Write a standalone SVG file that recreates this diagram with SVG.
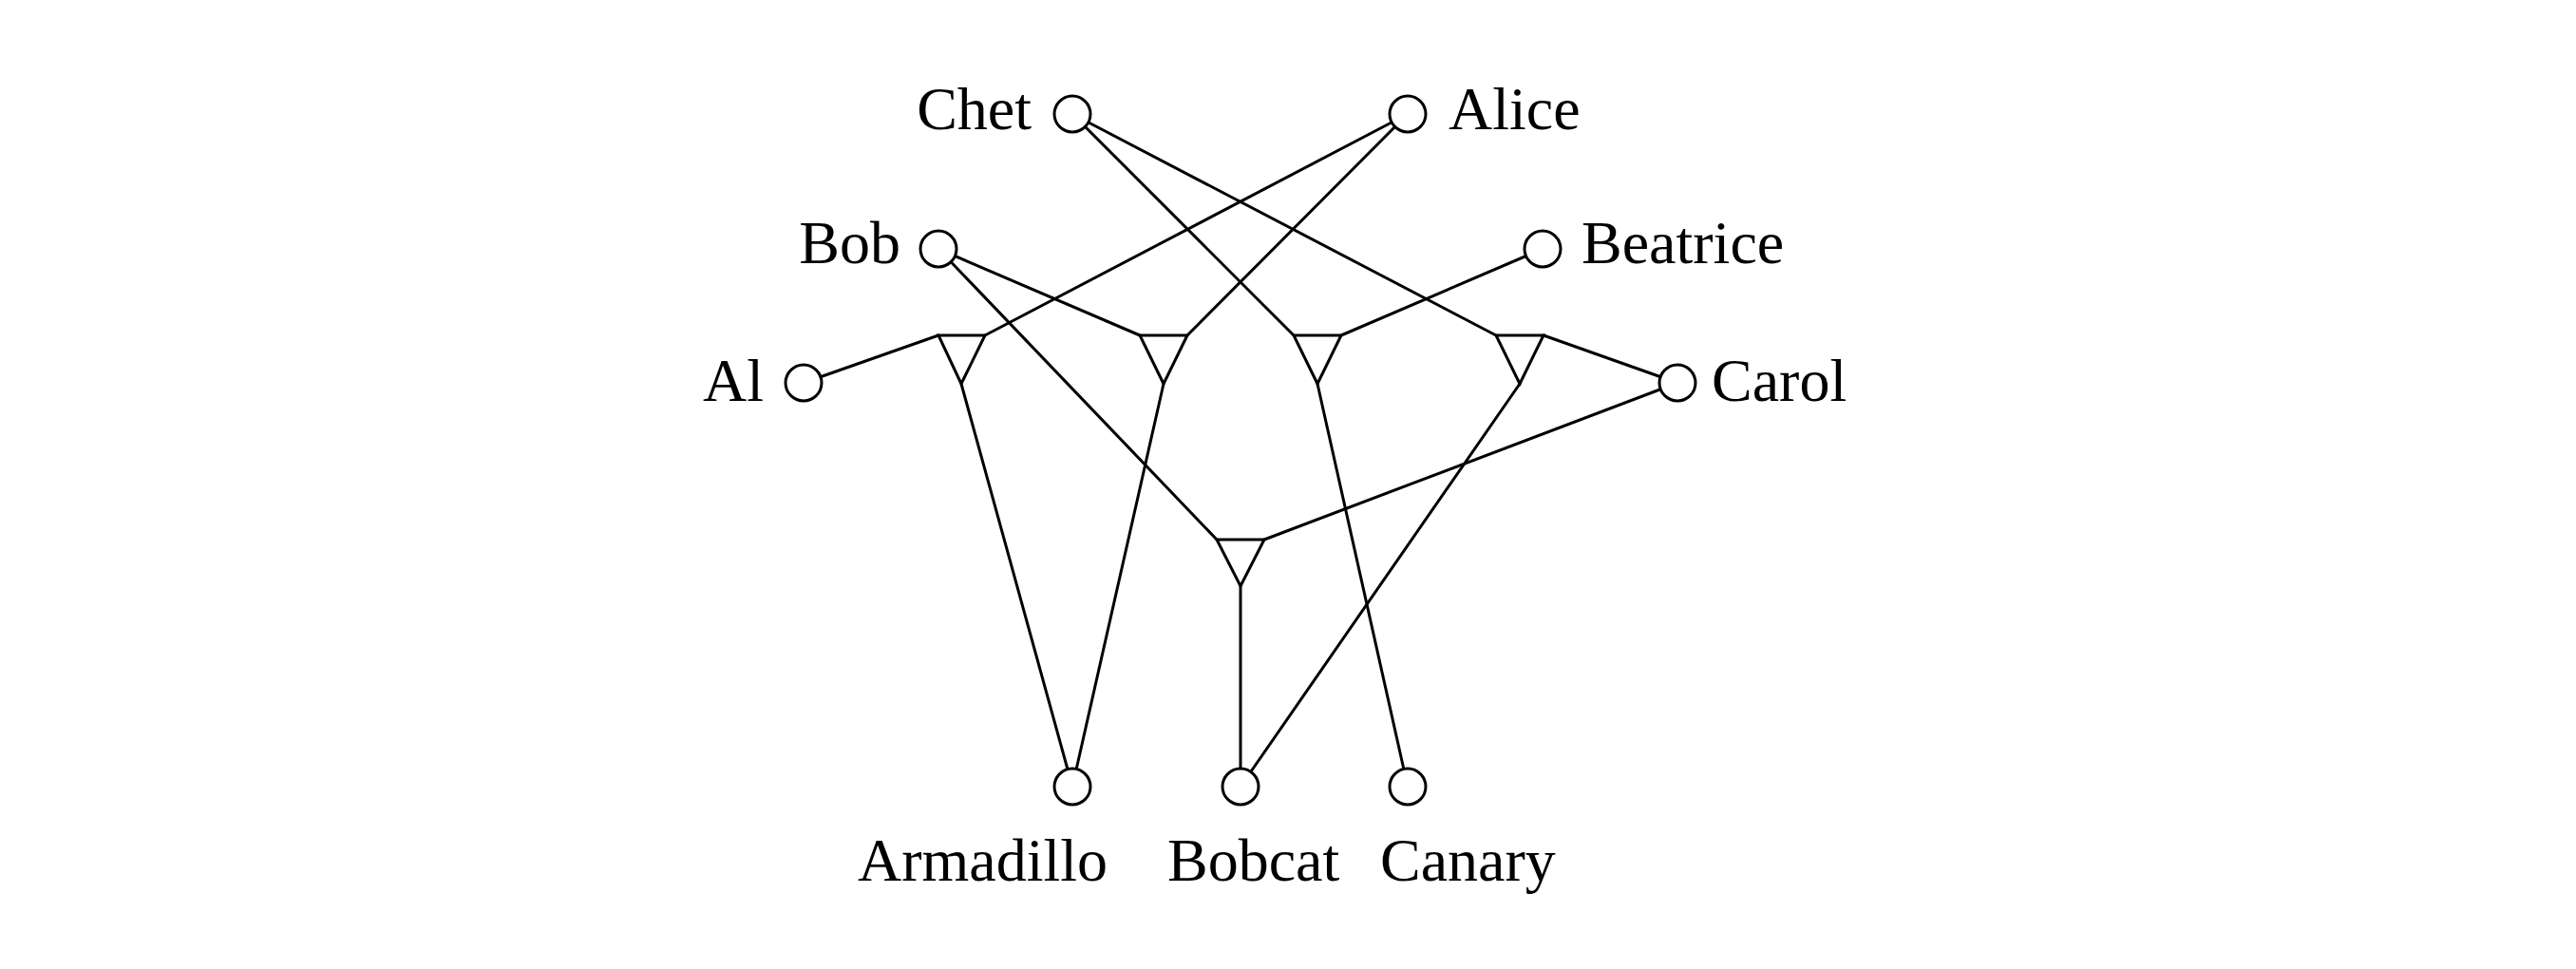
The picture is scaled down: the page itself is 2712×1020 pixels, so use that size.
<svg xmlns="http://www.w3.org/2000/svg" width="2712" height="1020" viewBox="0 0 2712 1020">
<style>
.e{stroke:#000;stroke-width:3;fill:none;stroke-linecap:round}
.n{stroke:#000;stroke-width:3;fill:#fff}
.t{stroke:#000;stroke-width:3;fill:#fff;stroke-linejoin:miter}
.l{font-family:"Liberation Serif","Times New Roman",serif;font-size:64px;fill:#000}
</style>
<rect width="2712" height="1020" fill="#fff"/>
<g id="connectors">
<line class="e" x1="846" y1="403" x2="988" y2="353"/>
<line class="e" x1="1482" y1="120" x2="1037" y2="353"/>
<line class="e" x1="1012" y1="404" x2="1129" y2="828"/>
<line class="e" x1="988" y1="262" x2="1200" y2="353"/>
<line class="e" x1="1482" y1="120" x2="1250" y2="353"/>
<line class="e" x1="1225" y1="404" x2="1129" y2="828"/>
<line class="e" x1="1129" y1="120" x2="1362" y2="353"/>
<line class="e" x1="1624" y1="262" x2="1412" y2="353"/>
<line class="e" x1="1387" y1="404" x2="1482" y2="828"/>
<line class="e" x1="1129" y1="120" x2="1575" y2="353"/>
<line class="e" x1="1766" y1="403" x2="1625" y2="353"/>
<line class="e" x1="1600" y1="404" x2="1306" y2="828"/>
<line class="e" x1="988" y1="262" x2="1281" y2="568"/>
<line class="e" x1="1766" y1="403" x2="1331" y2="568"/>
<line class="e" x1="1306" y1="617" x2="1306" y2="828"/>
</g>
<g id="t1"><polygon class="t" points="988,353 1037,353 1012,404"/></g>
<g id="t2"><polygon class="t" points="1200,353 1250,353 1225,404"/></g>
<g id="t3"><polygon class="t" points="1362,353 1412,353 1387,404"/></g>
<g id="t4"><polygon class="t" points="1575,353 1625,353 1600,404"/></g>
<g id="t5"><polygon class="t" points="1281,568 1331,568 1306,617"/></g>
<g id="chet"><circle class="n" cx="1129" cy="120" r="19"/><text class="l" x="1086" y="136" text-anchor="end">Chet</text></g>
<g id="alice"><circle class="n" cx="1482" cy="120" r="19"/><text class="l" x="1525" y="136">Alice</text></g>
<g id="bob"><circle class="n" cx="988" cy="262" r="19"/><text class="l" x="948" y="277" text-anchor="end">Bob</text></g>
<g id="beatrice"><circle class="n" cx="1624" cy="262" r="19"/><text class="l" x="1665" y="277">Beatrice</text></g>
<g id="al"><circle class="n" cx="846" cy="403" r="19"/><text class="l" x="804" y="422" text-anchor="end">Al</text></g>
<g id="carol"><circle class="n" cx="1766" cy="403" r="19"/><text class="l" x="1802" y="422">Carol</text></g>
<g id="armadillo"><circle class="n" cx="1129" cy="828" r="19"/><text class="l" x="903" y="927">Armadillo</text></g>
<g id="bobcat"><circle class="n" cx="1306" cy="828" r="19"/><text class="l" x="1229" y="927">Bobcat</text></g>
<g id="canary"><circle class="n" cx="1482" cy="828" r="19"/><text class="l" x="1453" y="927">Canary</text></g>
</svg>
